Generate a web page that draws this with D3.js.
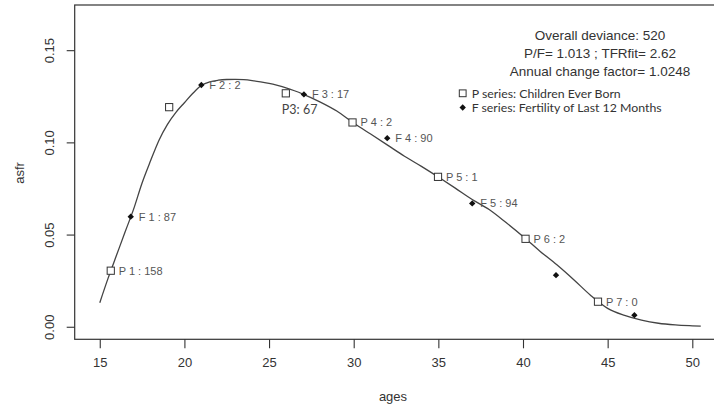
<!DOCTYPE html>
<html>
<head>
<meta charset="utf-8">
<script src="https://cdn.jsdelivr.net/npm/d3@7"></script>
<style>
  html, body { margin: 0; padding: 0; background: #fff; }
  svg { display: block; }
</style>
</head>
<body>
<svg id="chart" width="714" height="409"></svg>
<script>
// Fitted age-specific fertility schedule (smooth curve)
const fitAges = [15, 15.5, 16, 16.5, 17, 17.5, 18, 18.5, 19, 19.5, 20, 20.5, 21, 21.5, 22, 22.5,
  23, 23.5, 24, 24.5, 25, 25.5, 26, 26.5, 27, 28, 29, 30, 31, 32, 33, 34, 35, 36, 37, 38, 39,
  40, 41, 42, 43, 44, 45, 46, 47, 48, 49, 50, 50.5];
const fitAsfr = [0.0130, 0.0265, 0.0390, 0.0515, 0.0638, 0.0780, 0.0900, 0.1012, 0.1098, 0.1163,
  0.1215, 0.1266, 0.1308, 0.1328, 0.1337, 0.1341, 0.1342, 0.1340, 0.1335, 0.1328, 0.1320,
  0.1309, 0.1296, 0.1280, 0.1262, 0.1220, 0.1170, 0.1105, 0.1045, 0.0985, 0.0925, 0.0870,
  0.0812, 0.0752, 0.0690, 0.0636, 0.0565, 0.0490, 0.0410, 0.0336, 0.0255, 0.0170, 0.0100,
  0.0062, 0.0036, 0.0019, 0.0010, 0.0005, 0.0003];

// P series: children ever born
const pAges = [15.65, 19.1, 25.99, 29.93, 34.98, 40.15, 44.43];
const pAsfr = [0.0304, 0.1191, 0.1266, 0.1108, 0.0813, 0.0477, 0.0136];
const pLabels = ["P 1 : 158", "", "", "P 4 : 2", "P 5 : 1", "P 6 : 2", "P 7 : 0"];

// F series: fertility of last 12 months
const fAges = [16.83, 21.0, 27.06, 31.98, 37.0, 41.95, 46.58];
const fAsfr = [0.0597, 0.1311, 0.1260, 0.1023, 0.0669, 0.0280, 0.0063];
const fLabels = ["F 1 : 87", "F 2 : 2", "F 3 : 17", "F 4 : 90", "F 5 : 94", "", ""];

const xTicks = [15, 20, 25, 30, 35, 40, 45, 50];
const yTicks = [0.00, 0.05, 0.10, 0.15];

const summaryLines = ["Overall deviance:  520", "P/F= 1.013 ; TFRfit= 2.62", "Annual change factor= 1.0248"];
const legendItems = ["P series: Children Ever Born", "F series: Fertility of Last 12 Months"];

const svg = d3.select("#chart");
const ink = "#333";
const labelFont = "'Liberation Sans', Arial, sans-serif";

const x = d3.scaleLinear().domain([13.52, 51.4]).range([74.7, 716]);
const y = d3.scaleLinear().domain([-0.0068, 0.1745]).range([339.3, 5]);

// plot frame
svg.append("rect")
  .attr("x", x.range()[0]).attr("y", y.range()[1])
  .attr("width", x.range()[1] - x.range()[0])
  .attr("height", y.range()[0] - y.range()[1])
  .attr("fill", "none").attr("stroke", ink).attr("stroke-width", 1.2);

// x axis
const xAxis = svg.append("g")
  .attr("transform", `translate(0,${y.range()[0]})`)
  .call(d3.axisBottom(x).tickValues(xTicks).tickSize(9).tickPadding(9).tickFormat(d3.format("d")));
xAxis.select(".domain").remove();
xAxis.selectAll("line").attr("stroke", ink).attr("stroke-width", 1.1);
xAxis.selectAll("text").attr("fill", ink).style("font", `13px ${labelFont}`);

// y axis with rotated tick labels
const yAxis = svg.append("g")
  .attr("transform", `translate(${x.range()[0]},0)`)
  .call(d3.axisLeft(y).tickValues(yTicks).tickSize(8).tickFormat(d3.format(".2f")));
yAxis.select(".domain").remove();
yAxis.selectAll("line").attr("stroke", ink).attr("stroke-width", 1.1);
yAxis.selectAll(".tick text")
  .attr("x", null).attr("dy", null)
  .attr("transform", "translate(-24.7,0) rotate(-90)")
  .attr("text-anchor", "middle")
  .attr("dominant-baseline", "central")
  .attr("fill", ink).style("font", `13px ${labelFont}`);

// axis titles
svg.append("text")
  .attr("x", 393).attr("y", 401)
  .attr("text-anchor", "middle")
  .attr("fill", ink).style("font", `13px ${labelFont}`)
  .text("ages");
svg.append("text")
  .attr("transform", "translate(19,173) rotate(-90)")
  .attr("text-anchor", "middle")
  .attr("dominant-baseline", "central")
  .attr("fill", ink).style("font", `13px ${labelFont}`)
  .text("asfr");

// fitted curve
const line = d3.line()
  .x((d, i) => x(fitAges[i]))
  .y(d => y(d))
  .curve(d3.curveMonotoneX);
svg.append("path")
  .datum(fitAsfr)
  .attr("d", line)
  .attr("fill", "none")
  .attr("stroke", "#444")
  .attr("stroke-width", 1.3);

const diamond = d3.symbol().type(d3.symbolDiamond2 || d3.symbolDiamond).size(26);

// P series markers
svg.append("g").selectAll("rect")
  .data(pAges)
  .join("rect")
  .attr("x", d => x(d) - 3.6)
  .attr("y", (d, i) => y(pAsfr[i]) - 3.6)
  .attr("width", 7.2).attr("height", 7.2)
  .attr("fill", "#fff")
  .attr("stroke", "#333").attr("stroke-width", 1);

// F series markers
svg.append("g").selectAll("path")
  .data(fAges)
  .join("path")
  .attr("d", diamond)
  .attr("transform", (d, i) => `translate(${x(d)},${y(fAsfr[i])})`)
  .attr("fill", "#111");

// point labels
const pointLabels = svg.append("g")
  .attr("fill", "#555")
  .style("font", `11px ${labelFont}`);
pAges.forEach((a, i) => {
  if (!pLabels[i]) return;
  pointLabels.append("text")
    .attr("x", x(a) + 8).attr("y", y(pAsfr[i]))
    .attr("dominant-baseline", "central")
    .text(pLabels[i]);
});
fAges.forEach((a, i) => {
  if (!fLabels[i]) return;
  pointLabels.append("text")
    .attr("x", x(a) + 8).attr("y", y(fAsfr[i]))
    .attr("dominant-baseline", "central")
    .text(fLabels[i]);
});

// the third P point is labelled beneath its marker
svg.append("text")
  .attr("x", x(pAges[2]) - 4).attr("y", y(pAsfr[2]) + 16)
  .attr("dominant-baseline", "central")
  .attr("fill", "#444")
  .style("font", "12.5px Lato, 'Open Sans', sans-serif")
  .text("P3: 67");

// summary statistics
svg.append("g").selectAll("text")
  .data(summaryLines)
  .join("text")
  .attr("x", 600)
  .attr("y", (d, i) => 35 + i * 18.3)
  .attr("text-anchor", "middle")
  .attr("dominant-baseline", "central")
  .attr("fill", "#333")
  .style("font", `13.5px ${labelFont}`)
  .text(d => d);

// legend
const legend = svg.append("g").attr("transform", "translate(462.7,93.3)");
legend.append("rect")
  .attr("x", -3.4).attr("y", -3.4).attr("width", 6.8).attr("height", 6.8)
  .attr("fill", "#fff").attr("stroke", "#333").attr("stroke-width", 1);
legend.append("path")
  .attr("d", diamond)
  .attr("transform", "translate(0,14.2)")
  .attr("fill", "#111");
legend.selectAll("text")
  .data(legendItems)
  .join("text")
  .attr("x", 9)
  .attr("y", (d, i) => i * 14.2)
  .attr("dominant-baseline", "central")
  .attr("fill", "#333")
  .style("font", "12.3px Lato, 'Open Sans', sans-serif")
  .text(d => d);
</script>
</body>
</html>
